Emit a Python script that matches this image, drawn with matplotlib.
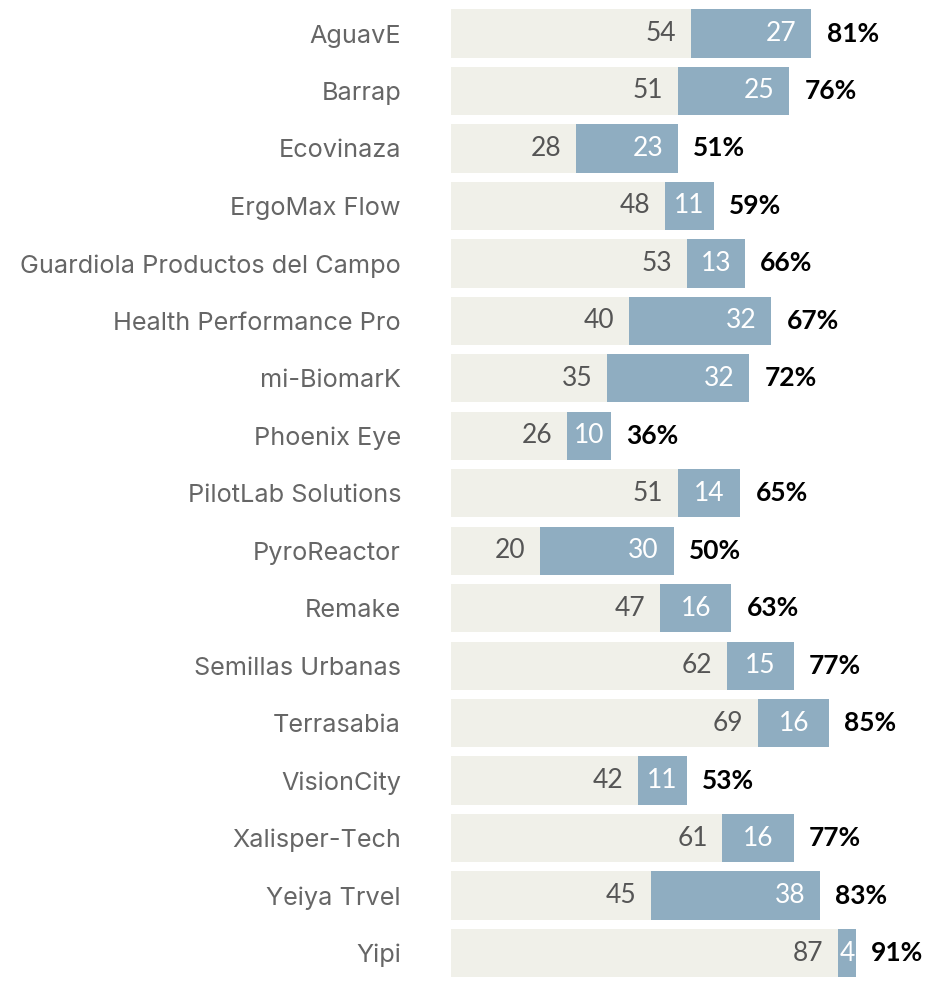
import matplotlib.pyplot as plt

names = ["AguavE", "Barrap", "Ecovinaza", "ErgoMax Flow", "Guardiola Productos del Campo",
         "Health Performance Pro", "mi-BiomarK", "Phoenix Eye", "PilotLab Solutions",
         "PyroReactor", "Remake", "Semillas Urbanas", "Terrasabia", "VisionCity",
         "Xalisper-Tech", "Yeiya Trvel", "Yipi"]
base = [54, 51, 28, 48, 53, 40, 35, 26, 51, 20, 47, 62, 69, 42, 61, 45, 87]
extra = [27, 25, 23, 11, 13, 32, 32, 10, 14, 30, 16, 15, 16, 11, 16, 38, 4]
pct = [81, 76, 51, 59, 66, 67, 72, 36, 65, 50, 63, 77, 85, 53, 77, 83, 91]

beige = "#F0F0E9"
blue = "#8FADC1"

fig = plt.figure(figsize=(9.31, 9.86), dpi=100)
ax = fig.add_axes([451 / 931, 0, 480 / 931, 1])

y = list(range(len(names)))
ax.barh(y, base, height=0.84, color=beige)
ax.barh(y, extra, left=base, height=0.84, color=blue)

for i in y:
    end = base[i] + extra[i]
    ax.text(base[i] - 3.3, i, str(base[i]), ha="right", va="center",
            fontsize=19, color="#555555", family="Lato")
    # wide segments: label near the end, narrow ones: centred
    if extra[i] >= 20:
        ax.text(end - 3.3, i, str(extra[i]), ha="right", va="center",
                fontsize=19, color="white", family="Lato")
    else:
        ax.text(base[i] + extra[i] / 2, i, str(extra[i]), ha="center", va="center",
                fontsize=19, color="white", family="Lato")
    ax.text(end + 3.4, i, f"{pct[i]}%", ha="left", va="center",
            fontsize=19, color="black", family="Lato", fontweight="bold")

ax.set_xlim(0, 480 / 4.45)
ax.set_ylim(16.574, -0.583)
ax.set_yticks(y)
ax.set_yticklabels(names, fontsize=18.2, color="#666666", family="Inter")
ax.tick_params(axis="y", length=0, pad=36)
ax.set_xticks([])
for s in ax.spines.values():
    s.set_visible(False)

fig.savefig("out.png", dpi=100)
